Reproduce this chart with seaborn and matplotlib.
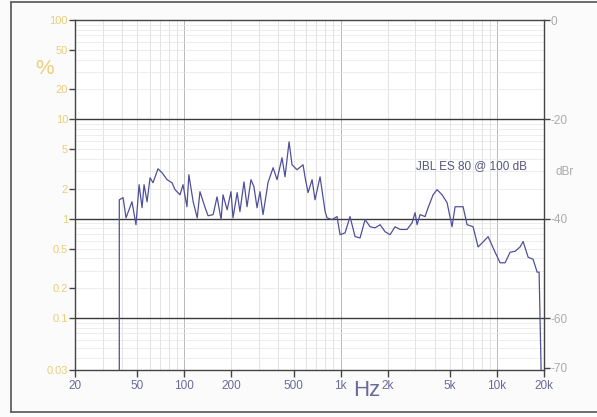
import numpy as np
import pandas as pd
import seaborn as sns
import matplotlib.pyplot as plt
from matplotlib.lines import Line2D
from matplotlib.ticker import FixedLocator, NullLocator

# Kurve: Klirrfaktor JBL ES 80 @ 100 dB
freq_hz = [38.4, 38.4, 40.6, 42.4, 46.3, 49.1, 51.4, 53.7, 55.3, 57.8, 60.4,
           63.1, 67.9, 72.1, 77.6, 83.5, 87.3, 93.9, 98.2, 104, 107,
           114, 121, 126, 136, 142, 153, 162, 172, 177, 188,
           199, 205, 218, 227, 241, 252, 267, 279, 292, 305,
           319, 338, 343, 370, 392, 422, 441, 468, 489, 526,
           575, 592, 619, 657, 686, 739, 796, 819, 882, 949,
           992, 1068, 1149, 1237, 1332, 1434, 1544, 1662, 1789, 1925,
           2072, 2230, 2400, 2662, 2866, 2994, 3084, 3224, 3470, 3628,
           3904, 4142, 4458, 4798, 5164, 5398, 5812, 6074, 6442, 7038,
           7576, 8036, 8780, 9732, 10476, 11276, 12138, 13066, 14068, 14704,
           15826, 17036, 18070, 18608, 19164, 19164]
thd_pct = [0.03, 1.55, 1.63, 1.02, 1.48, 0.87, 2.20, 1.29, 2.20, 1.48, 2.58,
           2.30, 3.18, 2.90, 2.47, 2.30, 1.96, 1.74, 2.20, 1.32, 2.77,
           1.48, 1.02, 1.87, 1.29, 1.07, 1.10, 1.66, 0.98, 1.74, 1.23,
           1.87, 1.02, 1.83, 1.18, 2.35, 1.32, 2.47, 2.10, 1.29, 1.87,
           1.10, 1.96, 2.30, 3.26, 2.47, 4.10, 2.64, 5.94, 3.49, 3.11,
           3.49, 2.64, 1.83, 2.47, 1.55, 2.64, 1.18, 1.02, 0.98, 1.05,
           0.69, 0.72, 1.05, 0.66, 0.64, 0.98, 0.83, 0.81, 0.87, 0.74,
           0.69, 0.83, 0.78, 0.78, 0.91, 1.15, 0.87, 1.10, 1.05, 1.29,
           1.74, 1.96, 1.74, 1.45, 0.83, 1.32, 1.32, 1.32, 0.87, 0.83,
           0.52, 0.57, 0.66, 0.46, 0.36, 0.36, 0.46, 0.47, 0.52, 0.59,
           0.41, 0.39, 0.29, 0.29, 0.03, 0.03]

x_ticks = [20, 50, 100, 200, 500, 1000, 2000, 5000, 10000, 20000]
x_labels = ["20", "50", "100", "200", "500", "1k", "2k", "5k", "10k", "20k"]
y_ticks = [100, 50, 20, 10, 5, 2, 1, 0.5, 0.2, 0.1, 0.03]
y_labels = ["100", "50", "20", "10", "5", "2", "1", "0.5", "0.2", "0.1", "0.03"]
dbr_ticks = [0, -20, -40, -60, -70]

df = pd.DataFrame({"freq": freq_hz, "thd": thd_pct})

sns.set_theme(style="white")
plt.rcParams["font.family"] = ["Liberation Sans", "DejaVu Sans"]

W, H = 597, 417
fig = plt.figure(figsize=(W / 100, H / 100), dpi=100)
fig.patch.set_facecolor("#fbfbfb")
ax = fig.add_axes([75 / W, 1 - 370 / H, 469 / W, 350 / H])
ax.set_facecolor("white")

ax.set_xscale("log")
ax.set_yscale("log")
ax.set_xlim(20, 20000)
ax.set_ylim(0.03, 100)

# Gitter
minor_x = [m * 10 ** e for e in range(1, 5) for m in range(2, 10) if 20 <= m * 10 ** e <= 20000]
for xv in minor_x:
    ax.axvline(xv, color="#dedede", lw=0.6, zorder=0)
for xv in [100, 1000, 10000]:
    ax.axvline(xv, color="#b8b8b8", lw=0.7, zorder=0)
minor_y = [m * 10.0 ** e for e in range(-2, 2) for m in range(2, 10) if 0.03 <= m * 10.0 ** e <= 100]
for yv in minor_y:
    ax.axhline(yv, color="#e6e6e6", lw=0.5, zorder=0)
for yv in [10, 1, 0.1]:
    ax.axhline(yv, color="#3a3a3a", lw=1.0, zorder=1)

sns.lineplot(data=df, x="freq", y="thd", sort=False, estimator=None,
             color="#50509a", lw=0.9, ax=ax, zorder=3, clip_on=True)

for s in ax.spines.values():
    s.set_color("#444444")
    s.set_linewidth(1.0)

ax.xaxis.set_major_locator(FixedLocator(x_ticks))
ax.xaxis.set_minor_locator(NullLocator())
ax.set_xticklabels(x_labels)
ax.tick_params(axis="x", which="major", bottom=True, length=5, width=1,
               color="#444444", labelsize=8.5, labelcolor="#6a6a9a", pad=2)

ax.yaxis.set_major_locator(FixedLocator(y_ticks))
ax.yaxis.set_minor_locator(NullLocator())
ax.set_yticklabels(y_labels)
ax.tick_params(axis="y", which="major", left=True, length=4, width=1,
               color="#444444", labelsize=8, labelcolor="#e8cf78", pad=1)
for t, v in zip(ax.yaxis.get_major_ticks(), y_ticks):
    if v not in (100, 10, 1, 0.1, 0.03):
        t.tick1line.set_visible(False)

ax.set_xlabel("")
ax.set_ylabel("")

# rechte Achse dBr
ax2 = ax.twinx()
ax2.set_ylim(20 * np.log10(0.03 / 100), 0)
ax2.set_yticks(dbr_ticks)
ax2.set_yticklabels([str(v) for v in dbr_ticks])
ax2.yaxis.set_minor_locator(NullLocator())
ax2.tick_params(axis="y", right=True, length=4, width=1, color="#444444",
                labelsize=8.5, labelcolor="#aaaaaa", pad=1)
ax2.grid(False)
for s in ax2.spines.values():
    s.set_visible(False)

fig.text(45 / W, 1 - 68 / H, "%", color="#e8cf78", fontsize=15, ha="center", va="center")
fig.text(565 / W, 1 - 172 / H, "dBr", color="#aaaaaa", fontsize=8.5, ha="center", va="center")
fig.text(367 / W, 1 - 390 / H, "Hz", color="#6a6a9a", fontsize=16, ha="center", va="center")
ax.text(3040, 3.41, "JBL ES 80 @ 100 dB", color="#55557f", fontsize=8.5,
        ha="left", va="center", zorder=4)

# äußerer Rahmen
for xs, ys in [([11, 11], [2, 412]), ([11, W], [2, 2]), ([11, W], [412, 412])]:
    fig.add_artist(Line2D([x / W for x in xs], [1 - y / H for y in ys],
                          color="#555555", lw=1.2))

plt.savefig("out.png", dpi=100)
plt.close()
